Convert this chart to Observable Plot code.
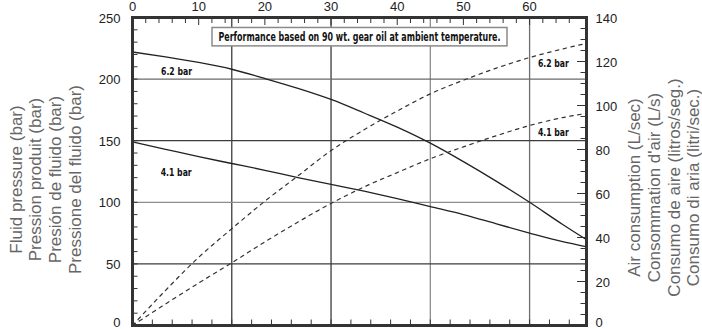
<!DOCTYPE html>
<html><head><meta charset="utf-8">
<script src="https://cdn.jsdelivr.net/npm/d3@7"></script>
<script src="https://cdn.jsdelivr.net/npm/@observablehq/plot@0.6"></script>
<style>body{margin:0;background:#fff;} #chart svg{display:block}</style>
</head><body><div id="chart"></div>
<script>
// ---- data ----
const flow       = [0, 5, 10, 15, 20, 25, 30, 35, 40, 45, 50, 55, 60, 65, 68.5];
const pressure62 = [222, 218, 213.5, 208, 200.5, 192.5, 183.5, 172.5, 161, 148, 133, 117, 100, 82, 70];
const pressure41 = [149, 143, 137, 131.5, 126, 120, 114.5, 109, 103, 96.5, 90, 82.5, 75, 68, 64];
const air62      = [0, 16, 31, 44, 56.5, 68, 79.5, 89, 97.5, 105.3, 111.5, 117, 121.8, 125.7, 128.2];
const air41      = [0, 9.8, 19.3, 28.5, 38, 47, 55.5, 63, 69.5, 75.8, 81.2, 86.3, 90.9, 94.5, 96.4];

const xTickLabels     = [0, 10, 20, 30, 40, 50, 60];
const leftTickLabels  = [0, 50, 100, 150, 200, 250];
const rightTickLabels = [0, 20, 40, 60, 80, 100, 120, 140];
const xGrid = [15, 30, 45, 60];
const yGrid = [50, 100, 150, 200];

const chartTitle = "Performance based on 90 wt. gear oil at ambient temperature.";
const leftTitle  = ["Fluid pressure (bar)", "Pression produit (bar)", "Presión de fluido (bar)", "Pressione del fluido (bar)"];
const rightTitle = ["Air consumption (L/sec)", "Consommation d'air (L/s)", "Consumo de aire (litros/seg.)", "Consumo di aria (litri/sec.)"];

const labelText  = ["6.2 bar", "4.1 bar", "6.2 bar", "4.1 bar"];
const labelFlow  = [6.65, 6.6, 63.6, 63.6];
const labelValue = [206.6, 124.2, 119.1, 87.7];
const labelAxis  = ["left", "left", "right", "right"];

// ---- scales ----
const LEFT_MAX = 250, RIGHT_MAX = 140, X_MAX = 68.6;
const toLeft = v => v * LEFT_MAX / RIGHT_MAX;
const W = 702, H = 329, ML = 132, MR = 116, MT = 17, MB = 4;
const PW = W - ML - MR, PH = H - MT - MB;

const pressureRows = [
  ...flow.map((f, i) => ({flow: f, value: pressure62[i], series: "6.2 bar"})),
  ...flow.map((f, i) => ({flow: f, value: pressure41[i], series: "4.1 bar"}))
];
const airRows = [
  ...flow.map((f, i) => ({flow: f, value: air62[i], series: "6.2 bar"})),
  ...flow.map((f, i) => ({flow: f, value: air41[i], series: "4.1 bar"}))
];
const labelRows = labelText.map((t, i) => ({text: t, flow: labelFlow[i],
  y: labelAxis[i] === "right" ? toLeft(labelValue[i]) : labelValue[i]}));

const topTicks = d3.range(2, 68, 2).filter(d => d % 10 !== 0);
const bottomTicks = d3.range(3, 68, 3);
const leftTicks = d3.range(10, 250, 10);
const rightMinor = d3.range(5, 140, 5).filter(v => v % 20 !== 0);
const rightMajor = d3.range(20, 140, 20);

const narrow = "'Liberation Sans Narrow','Arial Narrow','DejaVu Sans Condensed',sans-serif";
const gridX = d => (d === 45 ? "#8d8d8d" : d === 60 ? "#6f6f6f" : "#3c3c3c");
const gridY = d => (d === 100 ? "#8d8d8d" : d === 200 ? "#6a6a6a" : "#3c3c3c");
const rightFmt = d => Math.round(d * RIGHT_MAX / LEFT_MAX);
const axisStyle = {tickSize: 0, label: null, fontSize: 13, fill: "#222"};

const chart = Plot.plot({
  width: W, height: H,
  marginLeft: ML, marginRight: MR, marginTop: MT, marginBottom: MB,
  x: {domain: [0, X_MAX]},
  y: {domain: [0, LEFT_MAX]},
  style: {fontFamily: "'Liberation Sans', Arial, sans-serif", fontSize: "13px", color: "#222", background: "white", overflow: "visible"},
  marks: [
    Plot.ruleX(xGrid, {x: d => d, stroke: gridX, strokeWidth: 1.3}),
    Plot.ruleY(yGrid, {y: d => d, stroke: gridY, strokeWidth: 1.3}),
    Plot.tickX(topTicks, {x: d => d, insetBottom: PH - 6, stroke: "#333", strokeWidth: 1}),
    Plot.tickX(xTickLabels.filter(d => d > 0), {x: d => d, insetBottom: PH - 8, stroke: "#333", strokeWidth: 1}),
    Plot.tickX(bottomTicks, {x: d => d, insetTop: PH - 5.5, stroke: "#333", strokeWidth: 1}),
    Plot.tickY(leftTicks, {y: d => d, insetRight: PW - 5.5, stroke: "#333", strokeWidth: 1}),
    Plot.tickY(rightMinor.map(toLeft), {y: d => d, insetLeft: PW - 5.5, stroke: "#333", strokeWidth: 1}),
    Plot.tickY(rightMajor.map(toLeft), {y: d => d, insetLeft: PW - 9, stroke: "#333", strokeWidth: 1}),
    Plot.line(pressureRows, {x: "flow", y: "value", z: "series", curve: "monotone-x", stroke: "#222", strokeWidth: 1.3}),
    Plot.line(airRows, {x: "flow", y: d => toLeft(d.value), z: "series", curve: "monotone-x", stroke: "#333", strokeWidth: 1.2, strokeDasharray: "3.5,4.5"}),
    Plot.text(labelRows, {x: "flow", y: "y", text: "text", fontFamily: narrow, fontWeight: "bold", fontSize: 11, fill: "#111", ariaLabel: () => "curve-label"}),
    Plot.text([chartTitle], {frameAnchor: "top", dy: 19.5, text: d => d, lineAnchor: "middle", fontFamily: narrow, fontWeight: "bold", fontSize: 11.5, fill: "#111", ariaLabel: () => "title-box"}),
    Plot.text([leftTitle.join("\n")], {frameAnchor: "left", dx: -87.5, dy: 8, rotate: -90, text: d => d, textAnchor: "middle", lineAnchor: "middle", lineHeight: 1.16, fontSize: 17, fill: "#666"}),
    Plot.text([rightTitle.join("\n")], {frameAnchor: "right", dx: 77, dy: 16, rotate: -90, text: d => d, textAnchor: "middle", lineAnchor: "middle", lineHeight: 1.15, fontSize: 17, fill: "#666"}),
    Plot.axisX(xTickLabels, {anchor: "top", tickPadding: 6.5, ...axisStyle}),
    Plot.axisY(leftTickLabels.filter(d => d > 0), {anchor: "left", tickPadding: 12, dy: 1, ...axisStyle}),
    Plot.axisY(leftTickLabels.filter(d => d === 0), {anchor: "left", tickPadding: 12, dy: -3, ...axisStyle}),
    Plot.axisY(rightTickLabels.filter(d => d > 0).map(toLeft), {anchor: "right", tickPadding: 9, dy: 1, tickFormat: rightFmt, ...axisStyle}),
    Plot.axisY(rightTickLabels.filter(d => d === 0).map(toLeft), {anchor: "right", tickPadding: 9, dy: -3, tickFormat: rightFmt, ...axisStyle}),
    Plot.frame({stroke: "#333", strokeWidth: 3})
  ]
});
document.getElementById("chart").appendChild(chart);

// condensed bold annotations: fit to the reference widths, and box the title
const svg = d3.select(chart);
svg.selectAll("text[aria-label='curve-label']").attr("textLength", 31).attr("lengthAdjust", "spacingAndGlyphs");
const tt = svg.select("text[aria-label='title-box']");
if (!tt.empty()) {
  tt.attr("textLength", 282).attr("lengthAdjust", "spacingAndGlyphs");
  const bb = tt.node().getBBox();
  const cy = bb.y + bb.height / 2;
  const parent = d3.select(tt.node().parentNode);
  const m = tt.attr("transform");
  parent.insert("rect", () => tt.node())
    .attr("transform", m)
    .attr("x", bb.x - 6.5).attr("width", bb.width + 13)
    .attr("y", cy - 9.2).attr("height", 18.4)
    .attr("fill", "white").attr("stroke", "#8a8a8a").attr("stroke-width", 1.5);
}
</script>
</body></html>
